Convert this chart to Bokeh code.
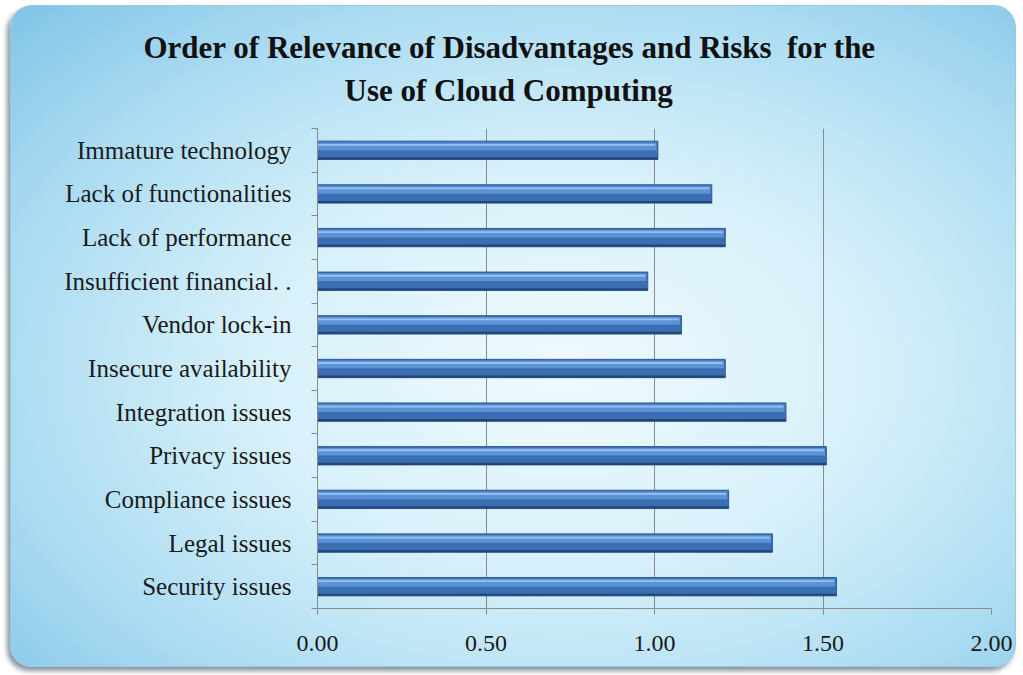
from bokeh.plotting import figure
from bokeh.models import Range1d, FixedTicker, Title, PrintfTickFormatter
from bokeh.embed import file_html
from bokeh.resources import INLINE

categories = [
    "Immature technology",
    "Lack of functionalities",
    "Lack of performance",
    "Insufficient financial. .",
    "Vendor lock-in",
    "Insecure availability",
    "Integration issues",
    "Privacy issues",
    "Compliance issues",
    "Legal issues",
    "Security issues",
]
values = [1.01, 1.17, 1.21, 0.98, 1.08, 1.21, 1.39, 1.51, 1.22, 1.35, 1.54]
x_ticks = [0.0, 0.5, 1.0, 1.5, 2.0]
title_lines = ["Order of Relevance of Disadvantages and Risks\u00a0 for the", "Use of Cloud Computing"]

n = len(categories)
# bottom category at position 1, top at n
ypos = [n - i for i in range(n)]

W, H = 1006, 662
p = figure(width=W, height=H, output_backend="svg", toolbar_location=None, title=None,
           x_range=Range1d(0, 2.0), y_range=Range1d(0.5, n + 0.5),
           min_border_left=306, min_border_right=26, min_border_top=122, min_border_bottom=60)
p.margin = (5, 0, 0, 10)
p.background_fill_alpha = 0
p.border_fill_alpha = 0
p.outline_line_color = None
p.styles = {
    "border-radius": "22px",
    "background": "radial-gradient(ellipse at 55% 55%, #f0fafd 0%, #d6f0fa 40%, #acdcf2 72%, #80c4e7 100%)",
    "box-shadow": "-3px 4px 5px rgba(40,60,80,0.55)",
    "border": "1px solid #9fc6db",
}

# bars: body, upper light band, highlight, dark lower edge
bh = 0.42
p.hbar(y=ypos, right=values, left=0, height=bh, fill_color="#3c6fb2", line_color="#2f5d98", line_width=1)
p.hbar(y=[y + bh * 0.22 for y in ypos], right=[v - 0.004 for v in values], left=0, height=bh * 0.42,
       fill_color="#5b93d6", line_color=None)
p.hbar(y=[y + bh * 0.3 for y in ypos], right=[v - 0.008 for v in values], left=0, height=bh * 0.1,
       fill_color="#a3c9f0", line_color=None, fill_alpha=0.85)
p.hbar(y=[y - bh * 0.44 for y in ypos], right=values, left=0, height=bh * 0.12,
       fill_color="#23467a", line_color=None)

# x axis
p.xaxis.ticker = FixedTicker(ticks=x_ticks)
p.xaxis.formatter = PrintfTickFormatter(format="%.2f")
p.xaxis.axis_line_color = "#8a8a8a"
p.xaxis.major_tick_line_color = "#8a8a8a"
p.xaxis.major_tick_out = 6
p.xaxis.major_tick_in = 0
p.xaxis.minor_tick_line_color = None
p.xaxis.major_label_text_font = "Liberation Serif"
p.xaxis.major_label_text_font_size = "24px"
p.xaxis.major_label_text_color = "#1a1a1a"
p.xaxis.major_label_standoff = 21

# y axis
p.yaxis.ticker = FixedTicker(ticks=ypos, minor_ticks=[k + 0.5 for k in range(n + 1)])
p.yaxis.major_label_overrides = {y: c for y, c in zip(ypos, categories)}
p.yaxis.axis_line_color = "#8a8a8a"
p.yaxis.major_tick_line_color = None
p.yaxis.minor_tick_line_color = "#8a8a8a"
p.yaxis.minor_tick_out = 6
p.yaxis.minor_tick_in = 0
p.yaxis.major_label_text_font = "Liberation Serif"
p.yaxis.major_label_text_font_size = "25px"
p.yaxis.major_label_text_color = "#1a1a1a"
p.yaxis.major_label_standoff = 20

p.ygrid.grid_line_color = None
p.xgrid.ticker = FixedTicker(ticks=x_ticks)
p.xgrid.grid_line_color = "#8a8a8a"
p.xgrid.grid_line_width = 1

# title lines: add second line first so it sits nearest the frame
offsets = [-174, 27]
standoffs = [-30, 42]
for t, off, so in reversed(list(zip(title_lines, offsets, standoffs))):
    p.add_layout(Title(text=t, align="left", offset=off, standoff=so,
                       text_font="Liberation Serif", text_font_style="bold",
                       text_font_size="31px", text_color="#111111"), "above")

open("out.html", "w").write(file_html(p, INLINE))
